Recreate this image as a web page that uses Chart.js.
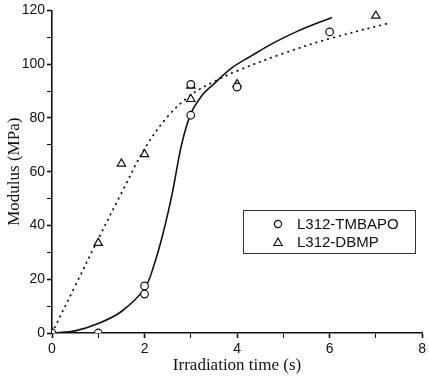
<!DOCTYPE html>
<html>
<head>
<meta charset="utf-8">
<script src="https://cdn.jsdelivr.net/npm/chart.js@4.4.1/dist/chart.umd.min.js"></script>
<style>
  html, body { margin: 0; padding: 0; background: #fff; }
  #wrap { position: relative; width: 429px; height: 380px; }
  #legend {
    position: absolute; left: 243px; top: 210px; width: 173px; height: 44px;
    border: 1px solid #333; box-sizing: border-box;
    font-family: 'Liberation Sans', Arial, sans-serif; font-size: 15px; color: #111;
  }
  #legend .row { position: absolute; left: 0; height: 18px; line-height: 18px; }
  #legend svg { position: absolute; left: 29px; top: 4px; }
  #legend span { position: absolute; left: 53px; white-space: nowrap; }
</style>
</head>
<body>
<div id="wrap">
  <canvas id="chart" width="429" height="380"></canvas>
  <div id="legend">
    <div class="row" style="top:4px">
      <svg width="10" height="10"><circle cx="5" cy="5" r="3.6" fill="none" stroke="#111" stroke-width="1.2"/></svg>
      <span>L312-TMBAPO</span>
    </div>
    <div class="row" style="top:22px">
      <svg width="10" height="10"><polygon points="5,1 9.2,8.5 0.8,8.5" fill="none" stroke="#111" stroke-width="1.2"/></svg>
      <span>L312-DBMP</span>
    </div>
  </div>
</div>
<script>
// ===== DATA =====
const tmbapoX = [0, 1, 2, 2, 3, 3, 4, 6];
const tmbapoY = [0, 0, 17.5, 14.5, 81, 92.5, 91.5, 112];
const dbmpX = [0, 1, 1.5, 2, 3, 3, 4, 7];
const dbmpY = [0, 33.5, 63, 66.5, 92, 87, 92.5, 118];

// fitted curves
const tmbapoFitX = [0, 0.5, 1, 1.5, 2, 2.2, 2.4, 2.6, 2.8, 3, 3.25, 3.5, 3.9, 4.3, 4.8, 5.3, 6.05];
const tmbapoFitY = [0, 0.8, 3.5, 8, 16.5, 25, 37, 52, 70, 81.5, 88.5, 92.7, 98.8, 103, 108, 112.2, 117.4];
const dbmpFitX = [0, 0.5, 1, 1.5, 2, 2.5, 3, 3.5, 4, 5, 6, 7.27];
const dbmpFitY = [0, 17.5, 35, 52, 68.5, 80.5, 88.5, 93.5, 97.5, 104, 109.5, 115.2];

const xTicks = [0, 2, 4, 6, 8];
const yTicks = [0, 20, 40, 60, 80, 100, 120];

const pts = (xs, ys) => xs.map((x, i) => ({ x, y: ys[i] }));

// ===== CHART =====
const tickFont = { family: "'Liberation Sans', Arial, sans-serif", size: 14 };
const titleFont = { family: "'Liberation Serif', 'Times New Roman', serif", size: 17 };

new Chart(document.getElementById('chart'), {
  type: 'scatter',
  data: {
    datasets: [
      {
        data: pts(tmbapoX, tmbapoY),
        pointStyle: 'circle', pointRadius: 3.8,
        borderColor: '#111', backgroundColor: '#fff', borderWidth: 1.2
      },
      {
        data: pts(dbmpX, dbmpY),
        pointStyle: 'triangle', pointRadius: 4.8,
        borderColor: '#111', backgroundColor: '#fff', borderWidth: 1.2
      },
      {
        data: pts(tmbapoFitX, tmbapoFitY),
        showLine: true, pointRadius: 0, borderColor: '#111', borderWidth: 1.6,
        tension: 0.35
      },
      {
        data: pts(dbmpFitX, dbmpFitY),
        showLine: true, pointRadius: 0, borderColor: '#111', borderWidth: 1.8,
        borderDash: [0.5, 5.5], borderCapStyle: 'round',
        tension: 0.35
      }
    ]
  },
  options: {
    responsive: false,
    animation: false,
    layout: { padding: { top: 9, right: 5, left: 0, bottom: 0 } },
    plugins: { legend: { display: false }, tooltip: { enabled: false } },
    scales: {
      x: {
        type: 'linear', min: 0, max: 8,
        afterFit: s => { s.height = 47; },
        afterBuildTicks: s => { s.ticks = [0,1,2,3,4,5,6,7,8].map(v => ({ value: v })); },
        ticks: {
          autoSkip: false, maxRotation: 0, color: '#111', font: tickFont, padding: 3,
          callback: v => xTicks.includes(v) ? String(v) : ''
        },
        grid: { drawOnChartArea: false, drawTicks: true, tickLength: 5, tickColor: '#111',
                tickWidth: c => (c.tick && xTicks.includes(c.tick.value)) ? 1.6 : 1 },
        border: { color: '#111', width: 1.6 },
        title: { display: true, text: 'Irradiation time (s)', color: '#111', font: titleFont, padding: { top: 0 } }
      },
      y: {
        type: 'linear', min: 0, max: 120,
        afterFit: s => { s.width = 52; },
        afterBuildTicks: s => {
          const t = [];
          for (let v = 0; v <= 120; v += 10) t.push({ value: v });
          s.ticks = t;
        },
        ticks: {
          autoSkip: false, color: '#111', font: tickFont, padding: 2,
          callback: v => yTicks.includes(v) ? String(v) : ''
        },
        grid: { drawOnChartArea: false, drawTicks: true, tickLength: 5, tickColor: '#111',
                tickWidth: c => (c.tick && yTicks.includes(c.tick.value)) ? 1.6 : 1 },
        border: { color: '#111', width: 1.6 },
        title: { display: true, text: 'Modulus (MPa)', color: '#111', font: titleFont, padding: { bottom: 0 } }
      }
    }
  }
});
</script>
</body>
</html>
